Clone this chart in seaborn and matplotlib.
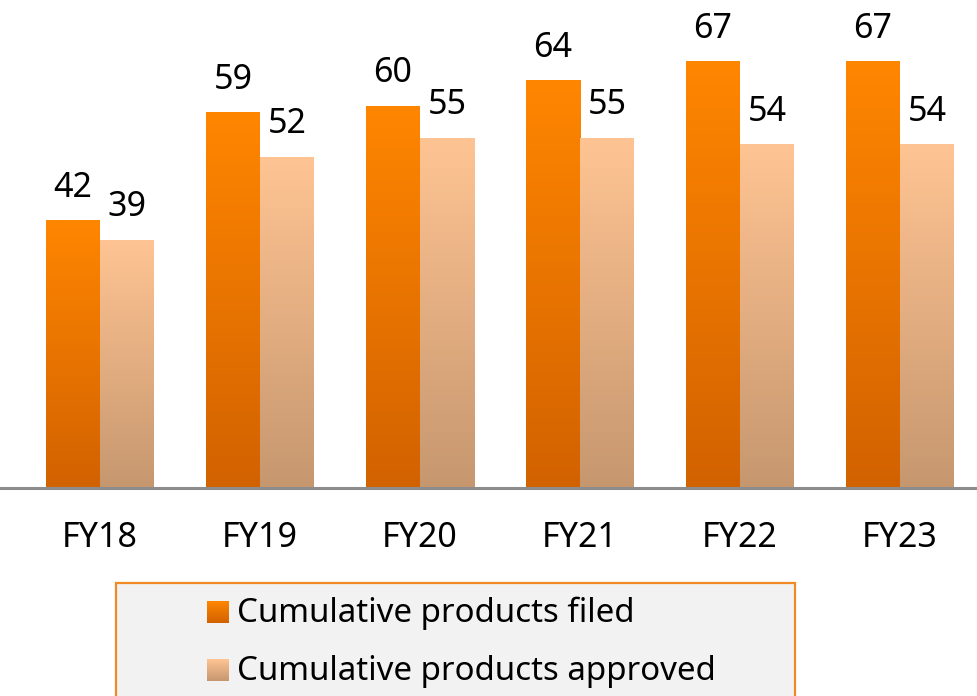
import numpy as np
import pandas as pd
import matplotlib
matplotlib.use("Agg")
import matplotlib.pyplot as plt
from matplotlib.colors import LinearSegmentedColormap
from matplotlib.patches import Rectangle
import seaborn as sns

years = ["FY18", "FY19", "FY20", "FY21", "FY22", "FY23"]
filed = [42, 59, 60, 64, 67, 67]
approved = [39, 52, 55, 55, 54, 54]
series_names = ["Cumulative products filed", "Cumulative products approved"]

# top / bottom colours of the vertical gradient for each series
grad = {
    series_names[0]: ("#FF8600", "#D26200"),
    series_names[1]: ("#FFC493", "#C6976F"),
}

df = pd.DataFrame({
    "year": years * 2,
    "value": filed + approved,
    "series": [series_names[0]] * len(years) + [series_names[1]] * len(years),
})

sns.set_theme(style="white")
plt.rcParams["font.family"] = ["Noto Sans", "DejaVu Sans"]

W, H = 978, 696
fig = plt.figure(figsize=(W / 100, H / 100), dpi=100)
base_y = 488
ax = fig.add_axes([0, (H - base_y) / H, 1, base_y / H])
ax.patch.set_alpha(0)

sns.barplot(data=df, x="year", y="value", hue="series", order=years,
            hue_order=series_names,
            palette=[grad[s][0] for s in series_names],
            width=0.675, gap=0, legend=False, ax=ax, saturation=1)

ax.set_xlim(-0.625, 5.4875)
ax.set_ylim(0, 76.6)


def gradient_fill(ax, patch, top, bottom, zorder=3):
    x0, y0 = patch.get_x(), patch.get_y()
    w, h = patch.get_width(), patch.get_height()
    cmap = LinearSegmentedColormap.from_list("g", [bottom, top])
    img = np.linspace(0, 1, 256).reshape(-1, 1)
    im = ax.imshow(img, extent=[x0, x0 + w, y0, y0 + h], origin="lower",
                   cmap=cmap, aspect="auto", zorder=zorder,
                   interpolation="bilinear")
    im.set_clip_path(patch)
    patch.set_edgecolor("none")


for container, name in zip(ax.containers, series_names):
    top, bottom = grad[name]
    for patch in container:
        gradient_fill(ax, patch, top, bottom)
    ax.bar_label(container, fmt="%d", padding=11, fontsize=24.5, color="black")

ax.set_aspect("auto")
ax.set_xlabel("")
ax.set_ylabel("")
ax.set_yticks([])
ax.tick_params(axis="x", length=0, pad=24, labelsize=24.5, labelcolor="black")
for s in ["top", "right", "left"]:
    ax.spines[s].set_visible(False)
ax.spines["bottom"].set_color("#8c8c8c")
ax.spines["bottom"].set_linewidth(2.2)
ax.spines["bottom"].set_zorder(5)


# legend box drawn in pixel coordinates of the figure
def fx(px):
    return px / W


def fy(py):
    return 1 - py / H


box = Rectangle((fx(116), fy(700)), fx(795) - fx(116), fy(583) - fy(700),
                transform=fig.transFigure, facecolor="#F2F2F2",
                edgecolor="#F08A24", linewidth=1.6, zorder=-1)
fig.patches.append(box)

rows = [(612, series_names[0]), (670, series_names[1])]
for cy, name in rows:
    top, bottom = grad[name]
    cmap = LinearSegmentedColormap.from_list("g", [bottom, top])
    sax = fig.add_axes([fx(207), fy(cy + 11), fx(229) - fx(207), fy(cy - 11) - fy(cy + 11)])
    sax.set_zorder(2)
    sax.imshow(np.linspace(0, 1, 64).reshape(-1, 1), origin="lower", cmap=cmap,
               aspect="auto", extent=[0, 1, 0, 1])
    sax.set_axis_off()
    fig.text(fx(237), fy(cy + 1), name, fontsize=23.8, va="center", ha="left",
             color="black", zorder=3)

fig.savefig("out.png", dpi=100)
